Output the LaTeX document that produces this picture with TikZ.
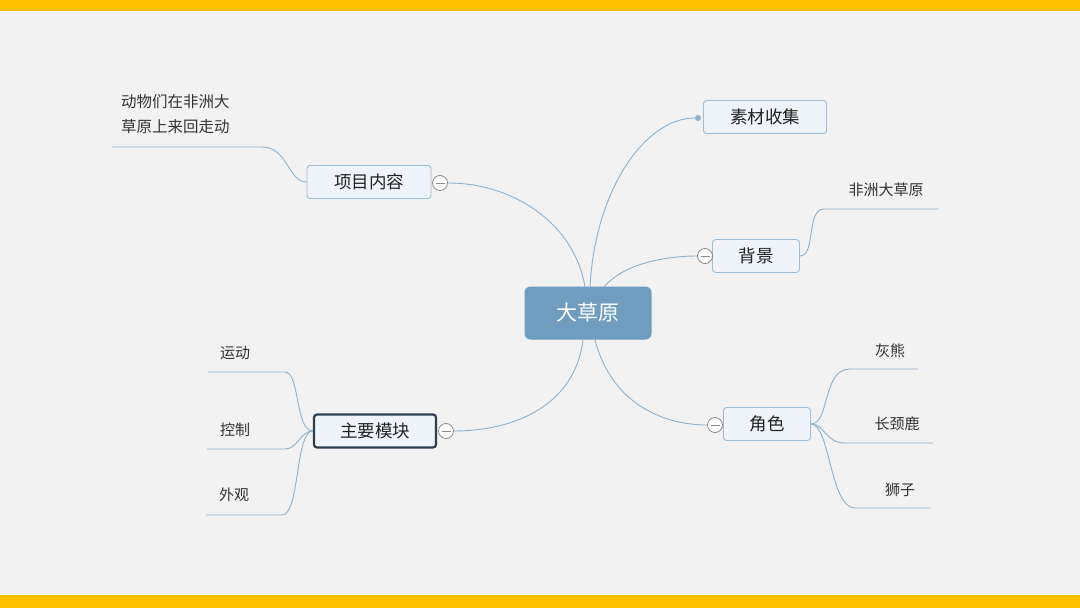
\documentclass[tikz,border=0pt]{standalone}
\usepackage{fontspec}
\newfontfamily\cjk{Noto Sans CJK SC}
\usetikzlibrary{calc}
\definecolor{bgc}{HTML}{F2F2F2}
\definecolor{barc}{HTML}{FFC000}
\definecolor{linec}{HTML}{8DB2CE}
\definecolor{boxb}{HTML}{9DBDD6}
\definecolor{boxf}{HTML}{EEF4F9}
\definecolor{centf}{HTML}{6F9DC0}
\definecolor{darkb}{HTML}{2F3E4E}
\definecolor{txt}{HTML}{222222}
\definecolor{leaft}{HTML}{333333}
\definecolor{minc}{HTML}{8A8A8A}
\tikzset{
  conn/.style={draw=linec, line width=0.9pt},
  topic/.style={draw=boxb, fill=boxf, rounded corners=3pt, line width=0.9pt,
    minimum height=33pt, inner sep=0pt, text=txt, font=\cjk\fontsize{17.5}{21}\selectfont},
  leaf/.style={text=leaft, inner sep=0pt, font=\cjk\fontsize{15}{25}\selectfont},
  minus/.style={circle, draw=minc, fill=white, line width=0.8pt, minimum size=15pt, inner sep=0pt,
    path picture={\draw[minc, line width=0.8pt] ([xshift=-4.5pt]path picture bounding box.center) -- ([xshift=4.5pt]path picture bounding box.center);}},
  dotn/.style={circle, fill=linec, minimum size=6pt, inner sep=0pt}
}
\begin{document}
\begin{tikzpicture}[x=1pt,y=-1pt]
\fill[bgc] (0,0) rectangle (1080,608);
\useasboundingbox (0,0) rectangle (1080,608);
\fill[barc] (0,0) rectangle (1080,11);
\fill[barc] (0,595) rectangle (1080,608);

% central
\node[fill=centf, rounded corners=6pt, minimum width=127pt, minimum height=53pt, inner sep=0pt,
  text=white, font=\cjk\fontsize{21}{25}\selectfont] (c) at (588,313) {大草原};

% topics
\node[topic, minimum width=124pt] (t1) at (369,182) {项目内容};
\node[topic, minimum width=123pt] (t2) at (765,117) {素材收集};
\node[topic, minimum width=87pt] (t3) at (756,256) {背景};
\node[topic, draw=darkb, line width=2.2pt, minimum width=122pt, minimum height=33pt] (t4) at (375,431) {主要模块};
\node[topic, minimum width=87pt] (t5) at (767,424) {角色};

% collapse markers
\node[minus] (k1) at (440,183) {};
\node[dotn] (d2) at (698,118) {};
\node[minus] (k3) at (705,256) {};
\node[minus] (k4) at (446,431) {};
\node[minus] (k5) at (715,425) {};

% central connectors
\coordinate (c1) at (585,287);
\coordinate (c2) at (590,287);
\coordinate (c3) at (604,287);
\coordinate (c4) at (583,340);
\coordinate (c5) at (595,340);
\draw[conn] (c1) .. controls (575,225) and (515,183) .. (k1.east);
\draw[conn] (c2) .. controls (595,190) and (645,118) .. (d2.west);
\draw[conn] (c3) .. controls (625,262) and (670,256) .. (k3.west);
\draw[conn] (c4) .. controls (575,405) and (515,431) .. (k4.east);
\draw[conn] (c5) .. controls (612,405) and (665,425) .. (k5.west);

% leaves
\node[leaf, anchor=north west, align=left, font=\cjk\fontsize{15.5}{25}\selectfont] (l1) at (121,94) {动物们在非洲大\\草原上来回走动};
\node[leaf] (l2) at (886,190) {非洲大草原};
\node[leaf] (l3) at (235,353) {运动};
\node[leaf] (l4) at (235,430) {控制};
\node[leaf] (l5) at (234,495) {外观};
\node[leaf] (l6) at (890,351) {灰熊};
\node[leaf] (l7) at (897,424) {长颈鹿};
\node[leaf] (l8) at (900,490) {狮子};

% leaf underline coordinates
\coordinate (u1a) at (262,147); \coordinate (u1b) at (112,147);
\coordinate (u2a) at (824,209); \coordinate (u2b) at (938,209);
\coordinate (u3a) at (285,372); \coordinate (u3b) at (208,372);
\coordinate (u4a) at (285,449); \coordinate (u4b) at (207,449);
\coordinate (u5a) at (282,515); \coordinate (u5b) at (206,515);
\coordinate (u6a) at (850,369); \coordinate (u6b) at (918,369);
\coordinate (u7a) at (845,443); \coordinate (u7b) at (933,443);
\coordinate (u8a) at (855,508); \coordinate (u8b) at (930,508);

\draw[conn] (t1.west) .. controls (288,182) and (288,147) .. (u1a) -- (u1b);
\draw[conn] (t3.east) .. controls (816,256) and (806,209) .. (u2a) -- (u2b);
\draw[conn] (t4.west) .. controls (295,431) and (300,372) .. (u3a) -- (u3b);
\draw[conn] (t4.west) .. controls (300,431) and (298,449) .. (u4a) -- (u4b);
\draw[conn] (t4.west) .. controls (295,431) and (300,515) .. (u5a) -- (u5b);
\draw[conn] (t5.east) .. controls (830,424) and (822,369) .. (u6a) -- (u6b);
\draw[conn] (t5.east) .. controls (825,424) and (825,443) .. (u7a) -- (u7b);
\draw[conn] (t5.east) .. controls (830,424) and (830,508) .. (u8a) -- (u8b);
\end{tikzpicture}
\end{document}
